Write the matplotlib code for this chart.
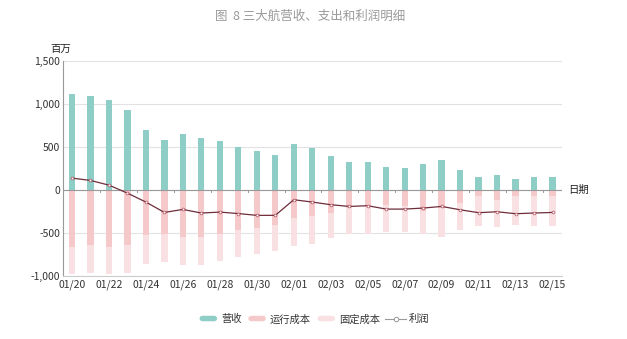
import numpy as np
import matplotlib.pyplot as plt
from matplotlib.patches import FancyBboxPatch, Rectangle
from matplotlib.lines import Line2D
from matplotlib.legend_handler import HandlerPatch

plt.rcParams['font.family'] = ['Noto Sans CJK SC', 'DejaVu Sans']

# dates (百万)
dates = ['01/20', '01/21', '01/22', '01/23', '01/24', '01/25', '01/26', '01/27', '01/28',
         '01/29', '01/30', '01/31', '02/01', '02/02', '02/03', '02/04', '02/05', '02/06',
         '02/07', '02/08', '02/09', '02/10', '02/11', '02/12', '02/13', '02/14', '02/15']
revenue = [1120, 1089, 1043, 934, 702, 585, 655, 601, 566, 500, 457, 407, 539, 492,
           391, 329, 329, 267, 258, 295, 349, 233, 147, 167, 120, 143, 151]
running_cost = [664, 645, 664, 645, 529, 521, 548, 556, 510, 471, 444, 413, 330, 310,
                270, 212, 193, 174, 193, 251, 212, 154, 77, 116, 77, 77, 77]
fixed_cost = [320, 328, 320, 320, 332, 324, 328, 320, 316, 309, 305, 297, 326, 318,
              297, 305, 328, 316, 301, 259, 338, 309, 344, 316, 328, 344, 344]
profit = [136, 109, 54, -39, -143, -264, -229, -271, -260, -277, -298, -298, -116, -143,
          -174, -194, -186, -225, -225, -213, -194, -233, -267, -256, -279, -271, -264]

c_rev = '#8fcdc7'
c_run = '#f5c8c9'
c_fix = '#f9e1e3'
c_line = '#6e2d3a'

x = np.arange(len(dates))
run = -np.array(running_cost)
fix = -np.array(fixed_cost)

fig = plt.figure(figsize=(6.27, 3.39), dpi=100)
ax = fig.add_axes([0.1, 0.187, 0.796, 0.633])

w = 0.34
b1 = ax.bar(x, revenue, w, color=c_rev, zorder=2)
b2 = ax.bar(x, run, w, color=c_run, zorder=2)
b3 = ax.bar(x, fix, w, bottom=run, color=c_fix, zorder=2)
ax.plot(x, profit, color=c_line, lw=0.9, marker='o', ms=2.0, mfc='white',
        mec='#b0505c', mew=0.5, zorder=4)

ax.set_xlim(-0.5, len(dates) - 0.5)
ax.set_ylim(-1000, 1500)
yt = [-1000, -500, 0, 500, 1000, 1500]
ax.set_yticks(yt)
ax.set_yticklabels([f'{v:,}' for v in yt])
ax.set_xticks(x[::2])
ax.set_xticklabels(dates[::2])
ax.tick_params(axis='both', length=0, labelsize=7.5, colors='#333333', pad=3)
ax.tick_params(axis='y', pad=2)

for v in yt:
    ax.axhline(v, color='#e2e2e2', lw=0.8, zorder=1)
ax.axhline(0, color='#999999', lw=0.8, zorder=3)
for i in x[::2][1:]:
    ax.plot([i - 0.5, i - 0.5], [0, -25], color='#999999', lw=0.7, zorder=3)

for s in ['top', 'right']:
    ax.spines[s].set_visible(False)
ax.spines['left'].set_color('#999999')
ax.spines['left'].set_linewidth(0.8)
ax.spines['bottom'].set_color('#cccccc')
ax.spines['bottom'].set_linewidth(0.8)

ax.text(-0.004, 1.056, '百万', transform=ax.transAxes, fontsize=7.5, color='#222222',
        ha='center', va='center')
ax.text(1.012, 0.4, '日期', transform=ax.transAxes, fontsize=7.5, color='#222222',
        ha='left', va='center')

fig.text(0.494, 0.952, '图  8 三大航营收、支出和利润明细', ha='center', va='center',
         fontsize=9, color='#9a9a9a')


class RoundHandler(HandlerPatch):
    def create_artists(self, legend, orig, xd, yd, width, height, fontsize, trans):
        p = FancyBboxPatch((1, height * 0.15), width - 2, height * 0.7,
                           boxstyle='round,pad=0,rounding_size=2.5',
                           facecolor=orig.get_facecolor(), edgecolor='none',
                           transform=trans)
        return [p]


line_h = Line2D([], [], color='#999999', lw=0.8, marker='o', ms=3.2, mfc='white',
                mec='#999999', mew=0.7)
handles = [b1.patches[0], b2.patches[0], b3.patches[0], line_h]
leg = fig.legend(handles, ['营收', '运行成本', '固定成本', '利润'], loc='center',
                 bbox_to_anchor=(0.5, 0.058), ncol=4, frameon=False, fontsize=7.4,
                 handlelength=2.0, handleheight=0.8, columnspacing=0.5, handletextpad=0.25,
                 handler_map={Rectangle: RoundHandler()})
for t in leg.get_texts():
    t.set_color('#333333')

fig.savefig('out.png', dpi=100, facecolor='white')
